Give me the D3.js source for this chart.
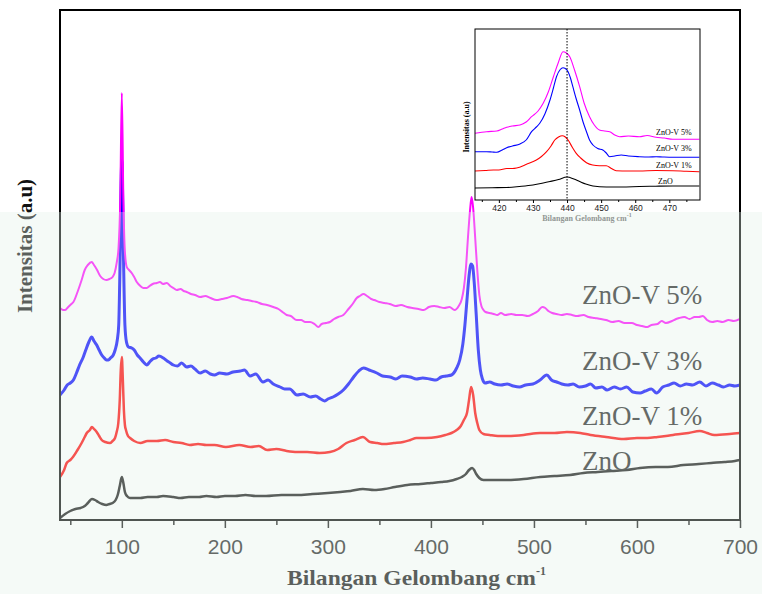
<!DOCTYPE html>
<html><head><meta charset="utf-8">
<script src="https://cdn.jsdelivr.net/npm/d3@7"></script>
<style>body{margin:0;background:#fff}svg{display:block}</style>
</head><body>
<svg id="c" width="762" height="594"></svg>
<script>
// ---------- data ----------
const seriesNames = ["ZnO", "ZnO-V 1%", "ZnO-V 3%", "ZnO-V 5%"];
const seriesColors = ["#111111", "#ff0000", "#0000ff", "#ff00ff"];
const xTicks = [100, 200, 300, 400, 500, 600, 700];
const xMinorTicks = [50, 150, 250, 350, 450, 550, 650];
const insetTicks = [420, 430, 440, 450, 460, 470];
const insetMinorTicks = [415, 425, 435, 445, 455, 465, 475];
const insetMarker = 440;

// main spectra: [wavenumber cm-1, intensity a.u.]
const znoData = [[40,2],[45,6],[50,9],[55,11],[60,12],[64,14],[67,17],[71,21],[74,20],[77,18],[81,16],[85,15],[88,16],[91,17],[94,20],[96,25],[98,34],[100,43],[101.5,37],[103,28],[105,24],[108,22],[112,22],[118,22],[125,23],[134,23],[140,24],[150,23],[157,22],[165,23],[175,23],[182,24],[192,23],[200,24],[210,24],[220,25],[230,24],[240,24],[255,25],[270,25],[285,26],[300,27],[312,28],[322,29],[334,31],[345,30],[355,31],[365,33],[377,35],[390,36],[400,37],[410,38],[418,39],[425,41],[430,43],[434,46],[437,50],[440,52],[442,50],[444,46],[447,42],[451,40],[458,40],[466,40],[474,40],[490,41],[506,43],[520,44],[535,45],[548,47],[562,48],[575,49],[590,50],[603,52],[618,53],[630,53],[645,55],[660,56],[672,57],[685,58],[695,59],[700,60]];

const v1Data = [[40,43],[44,50],[46.5,57],[50,60],[52.6,63],[57,70],[61,77],[64,83],[66,87],[69,90],[71,93],[73,91],[75.6,88],[78,84],[80.5,80],[84,78],[88.5,77],[91,79],[93.4,82],[95,88],[96.6,97],[98,120],[99,150],[100,163],[101,140],[102,110],[103,95],[104,90],[106,84],[108,82],[112,79],[118,77],[125,79],[134,79],[142,80],[150,78],[158,77],[166,75],[174,76],[182,75],[190,75],[201,73],[214,75],[225,73],[233,74],[241,70],[250,71],[260,69],[270,68],[280,68],[292,67],[302,68],[310,71],[318,77],[326,80],[334,83],[341,78],[348,77],[354,76],[364,77],[373,78],[380,80],[386,82],[395,82],[406,83],[414,85],[420,87],[425,90],[429,94],[432,100],[435,107],[437,120],[439,133],[441,125],[443,107],[445,97],[447,90],[451,86],[457,85],[465,84],[474,84],[490,85],[506,87],[520,87],[532,88],[545,87],[555,85],[570,83],[587,81],[600,82],[610,82],[620,83],[635,85],[650,87],[661,89],[668,87],[675,85],[690,86],[700,87]];

const v3Data = [[40,125],[44,130],[47,135],[50,137],[53,140],[56,147],[59,155],[62.6,163],[65,170],[68,178],[70.8,183],[73,179],[75.6,175],[78,170],[80.5,165],[83,162],[85,160],[87,160],[89,162],[91.7,165],[93.5,170],[95.6,180],[97,195],[98.5,270],[100,360],[101.5,270],[103,195],[104.5,178],[106.5,173],[109.6,172],[112,170],[115,165],[117.7,162],[121,158],[124.2,155],[127,158],[130,161],[133,162],[136,164],[140.3,162],[144,159],[147,157],[150,155],[154,154],[158,157],[163,153],[167,154],[171,151],[176,147],[181,149],[186,146],[190,145],[195,147],[202,146],[208,148],[215,149],[219,150],[224.5,144],[230,146],[237,138],[242,140],[247,136],[253.6,133],[258,131],[263,131],[270,125],[276,126],[283,123],[288,124],[293,121],[297,119],[300,121],[305,123],[310,126],[315,130],[320,136],[325,143],[330,149],[334.5,152],[340,150],[347.5,147],[353,144],[360.4,143],[366,141],[372,144],[379.8,143],[386,141],[392,142],[399,141],[405,140],[410,143],[415,144],[420,145],[425,152],[428,160],[431,176],[433,195],[435,220],[437,244],[439,256],[440.5,254],[442,238],[444,205],[446,170],[448,150],[450,141],[452.6,137],[457,138],[462,136],[468,135],[474,136],[480,134],[486,133],[492,135],[499,136],[506,140],[512.5,145],[517,140],[522,138],[527,136],[533,135],[538,136],[544,133],[550,134],[555,136],[560,132],[566,133],[571,130],[578,133],[584,131],[590,133],[596,128],[603,127],[608,129],[614,131],[619,127],[625,133],[631,135],[636,137],[642,134],[648,136],[654,135],[661,138],[667,134],[673,137],[679,135],[684,133],[690,135],[695,134],[700,135]];

const v5Data = [[40,212],[43,210],[45,210],[48,213],[51,216],[53,218],[57,228],[61,240],[64,250],[67,255],[70.8,258],[73,255],[76,250],[79,244],[82,241],[85,240],[88,241],[91,243],[93,247],[95,257],[96.8,272],[98.5,320],[100,427],[101.5,320],[103,268],[104.8,253],[107,250],[109.6,247],[112,243],[114.5,238],[118,234],[121,232],[124.2,232],[127,234],[130,236],[133.9,237],[137,238],[140,236],[143.6,237],[147,234],[150,232],[153.3,230],[157,231],[160,229],[163,228],[167,226],[171,225],[176,223],[181,224],[186,222],[192,220],[197,221],[202,222],[208.3,224],[212,223],[216,221],[222,220],[226,219],[231,218],[236,216],[241,215],[247,213],[252,211],[256,208],[260,205],[264,204],[269.8,200],[274,200],[278,198],[282.7,198],[287,196],[290.8,193],[294,196],[298,197],[302,198],[306,201],[310,203],[315,205],[320,211],[324,216],[328,222],[331,224],[334.5,226],[338,224],[342,221],[345,220],[350,218],[355,217],[360,216],[366,214],[371,215],[377,213],[382,212],[388,211],[393,210],[398,213],[403.3,214],[408,213],[413,212],[418,213],[423,210],[427,214],[430,221],[432,232],[434,252],[436,283],[438,310],[439.5,323],[441,312],[443,282],[445,250],[447,225],[449,214],[451,210],[453,208],[457,207],[461,206],[464.4,205],[468,207],[472,205],[478,206],[483,205],[488.6,205],[494,204],[499,206],[504,209],[508,213],[511,212],[514,209],[517.7,207],[522,206],[527,205],[532,206],[537,205],[542,204],[548,205],[553,203],[559,202],[565,201],[570,200],[576,198],[582,199],[588,197],[595,197],[600,195],[605,194],[610,193],[614,195],[620,196],[624,199],[628,197],[634,199],[638,201],[641,202],[646,203],[651,201],[656,203],[660,203],[664,204],[668,200],[673,198],[678,199],[683,198],[689,200],[694,199],[700,201]];

// inset spectra (zoom 413-479 cm-1)
const insetZnO = [[413,12],[418,12.3],[422.3,12.5],[426,13.5],[430,15],[433,17],[435,18.5],[437.5,20.5],[440,23],[442,21],[443.7,18.5],[445.5,16],[447.6,14],[451.5,13],[456,13],[461.2,13.5],[466,13.8],[471,14],[478.8,14]];
const insetV1 = [[413,29],[416,29.5],[418.4,30],[420,30],[422.3,31.5],[424,31.5],[425.2,32],[428.1,35.7],[431,40],[432.5,43.5],[434,48.3],[435.3,54],[436.4,60],[437.5,63],[438.6,64.3],[439.5,63],[440.3,60],[441.5,53],[442.7,46.7],[444,42],[445.7,37.3],[447.5,35],[449.5,34.3],[451.5,34.3],[453,31.5],[454.4,29.3],[458,29],[461.2,29],[466,29.5],[471,29.3],[475,28.7],[478.8,28.3]];
const insetV3 = [[413,48.3],[416.4,48.3],[418,48],[419.4,47.7],[421,50],[422.3,52.3],[424,54],[426.2,56],[428,60],[429.6,68.3],[431,73],[432,76.7],[433.5,86],[435,100],[436,112],[436.9,123.3],[438,130.5],[438.8,132.3],[439.5,131.5],[440.3,128.3],[441,122],[441.7,113.3],[442.7,101],[443.7,90],[444.7,78],[445.7,68.3],[446.6,60],[447.6,55],[449,51.5],[450.5,50],[451.5,47],[452.5,43.3],[454,44],[455.9,45],[458,44],[461.2,43.3],[464,43],[466.1,43.3],[468,43],[471,42.7],[475,42.7],[478.8,42.7]];
const insetV5 = [[413,66.7],[416.4,68.3],[419.4,69],[421,71],[422.3,72.7],[424,74],[426.2,75],[428,78],[429.6,83.3],[431.5,89],[433,96.7],[434.5,108],[436,123.3],[437.5,138],[438.8,148.3],[439.8,147],[440.8,143.3],[442.2,130],[443.7,113.3],[445,97],[446.6,83.3],[448,75],[449.5,70],[451,69],[452.5,68.3],[454,65],[455.4,63.3],[458,64],[461.2,63.3],[463.5,64.5],[466.1,62.7],[468.5,62],[471,60.7],[475,60.7],[478.8,60.7]];

const mainSeries = [znoData, v1Data, v3Data, v5Data];
const insetSeries = [insetZnO, insetV1, insetV3, insetV5];
const mainWidths = [2.5, 2.5, 3, 2];

// ---------- drawing ----------
const svg = d3.select("#c");
const M = {l: 60, t: 10, r: 740, b: 520};
const x = d3.scaleLinear().domain([40, 700]).range([M.l, M.r]);
const y = d3.scaleLinear().domain([0, 510]).range([M.b, M.t]);

svg.append("rect").attr("width", 762).attr("height", 594).attr("fill", "#fff");
svg.append("defs").append("clipPath").attr("id", "clipMain")
  .append("rect").attr("x", M.l).attr("y", M.t).attr("width", M.r - M.l).attr("height", M.b - M.t);

const line = d3.line().x(d => x(d[0])).y(d => y(d[1])).curve(d3.curveMonotoneX);
const gLines = svg.append("g").attr("clip-path", "url(#clipMain)");
mainSeries.forEach((s, i) => {
  gLines.append("path").datum(s).attr("d", line)
    .attr("fill", "none").attr("stroke", seriesColors[i])
    .attr("stroke-width", mainWidths[i]).attr("stroke-linejoin", "round");
});

// axis ticks
const gx = svg.append("g").attr("transform", `translate(0,${M.b})`)
  .call(d3.axisBottom(x).tickValues(xTicks).tickSize(8).tickPadding(11).tickFormat(d3.format("d")));
gx.select(".domain").remove();
gx.selectAll(".tick line").attr("stroke", "#111").attr("stroke-width", 1.5);
gx.selectAll(".tick text").attr("font-family", "'Liberation Sans', Arial, sans-serif")
  .attr("font-size", 21).attr("fill", "#222");
const gxm = svg.append("g").attr("transform", `translate(0,${M.b})`)
  .call(d3.axisBottom(x).tickValues(xMinorTicks).tickSize(5).tickFormat(""));
gxm.select(".domain").remove();
gxm.selectAll(".tick line").attr("stroke", "#111").attr("stroke-width", 1.5);

// frame
svg.append("rect").attr("x", M.l).attr("y", M.t).attr("width", M.r - M.l).attr("height", M.b - M.t)
  .attr("fill", "none").attr("stroke", "#000").attr("stroke-width", 2);

// series labels
const labelY = [470, 425, 370, 304];
seriesNames.forEach((n, i) => {
  svg.append("text").attr("x", 582).attr("y", labelY[i]).text(n)
    .attr("font-family", "'Liberation Serif', 'Times New Roman', serif")
    .attr("font-size", 27).attr("fill", "#222");
});

// axis titles
const xt = svg.append("text").attr("x", 287).attr("y", 585)
  .attr("font-family", "'Liberation Serif', 'Times New Roman', serif")
  .attr("font-weight", "bold").attr("font-size", 21).attr("fill", "#111");
xt.append("tspan").text("Bilangan Gelombang cm").attr("textLength", 249).attr("lengthAdjust", "spacingAndGlyphs");
xt.append("tspan").text("-1").attr("font-size", 12).attr("dy", -10);

svg.append("text").attr("transform", "translate(32,246) rotate(-90)")
  .attr("text-anchor", "middle")
  .attr("font-family", "'Liberation Serif', 'Times New Roman', serif")
  .attr("font-weight", "bold").attr("font-size", 21).attr("fill", "#111")
  .text("Intensitas (a.u)");

// ---------- inset ----------
const I = {l: 475, t: 29, r: 700, b: 200};
const xi = d3.scaleLinear().domain([413, 479]).range([I.l, I.r]);
const yi = d3.scaleLinear().domain([0, 171]).range([I.b, I.t]);
svg.append("rect").attr("x", I.l).attr("y", I.t).attr("width", I.r - I.l).attr("height", I.b - I.t).attr("fill", "#fff");
svg.append("defs").append("clipPath").attr("id", "clipInset")
  .append("rect").attr("x", I.l).attr("y", I.t).attr("width", I.r - I.l).attr("height", I.b - I.t);
const lineI = d3.line().x(d => xi(d[0])).y(d => yi(d[1])).curve(d3.curveMonotoneX);
const gI = svg.append("g").attr("clip-path", "url(#clipInset)");
insetSeries.forEach((s, i) => {
  gI.append("path").datum(s).attr("d", lineI).attr("fill", "none")
    .attr("stroke", seriesColors[i] === "#111111" ? "#000" : seriesColors[i]).attr("stroke-width", 1.1);
});
svg.append("line").attr("x1", xi(insetMarker)).attr("x2", xi(insetMarker))
  .attr("y1", I.t).attr("y2", I.b).attr("stroke", "#000").attr("stroke-width", 1)
  .attr("stroke-dasharray", "1.5,1.5");
svg.append("rect").attr("x", I.l).attr("y", I.t).attr("width", I.r - I.l).attr("height", I.b - I.t)
  .attr("fill", "none").attr("stroke", "#000").attr("stroke-width", 1);
const gix = svg.append("g").attr("transform", `translate(0,${I.b})`)
  .call(d3.axisBottom(xi).tickValues(insetTicks).tickSize(3).tickPadding(2).tickFormat(d3.format("d")));
gix.select(".domain").remove();
gix.selectAll(".tick text").attr("font-family", "'Liberation Sans', Arial, sans-serif").attr("font-size", 8.5).attr("fill", "#222");
const gixm = svg.append("g").attr("transform", `translate(0,${I.b})`)
  .call(d3.axisBottom(xi).tickValues(insetMinorTicks).tickSize(2).tickFormat(""));
gixm.select(".domain").remove();

const insetLabelY = [184, 168, 151, 135];
seriesNames.forEach((n, i) => {
  svg.append("text").attr("x", n === "ZnO" ? 658 : 656).attr("y", insetLabelY[i]).text(n)
    .attr("font-family", "'Liberation Serif', 'Times New Roman', serif")
    .attr("font-size", 8).attr("fill", "#000");
});
const xit = svg.append("text").attr("x", 587).attr("y", 221).attr("text-anchor", "middle")
  .attr("font-family", "'Liberation Serif', 'Times New Roman', serif")
  .attr("font-weight", "bold").attr("font-size", 8).attr("fill", "#666");
xit.append("tspan").text("Bilangan Gelombang cm");
xit.append("tspan").text("-1").attr("font-size", 6).attr("dy", -4);
svg.append("text").attr("transform", "translate(469,127) rotate(-90)").attr("text-anchor", "middle")
  .attr("font-family", "'Liberation Serif', 'Times New Roman', serif")
  .attr("font-weight", "bold").attr("font-size", 8).attr("fill", "#000")
  .text("Intensitas (a.u)");

// faded watermark tint over the lower part of the page
svg.append("rect").attr("x", 0).attr("y", 212).attr("width", 762).attr("height", 382)
  .attr("fill", "#e2f0e8").attr("opacity", 0.35).attr("pointer-events", "none");
</script>
</body></html>
